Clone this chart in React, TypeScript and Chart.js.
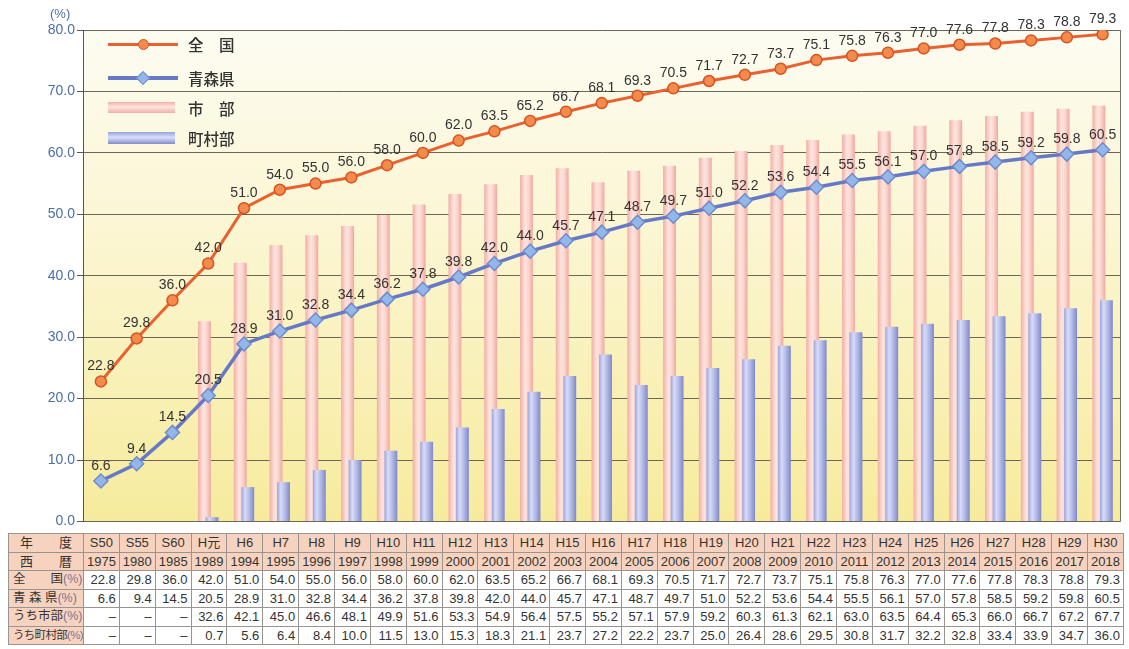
import React, { useEffect, useRef } from "react";
import { Chart, registerables } from "chart.js";

Chart.register(...registerables);

// ---- data ----
const eraLabels = ["S50","S55","S60","H元","H6","H7","H8","H9","H10","H11","H12","H13","H14","H15","H16","H17","H18","H19","H20","H21","H22","H23","H24","H25","H26","H27","H28","H29","H30"];
const westernYears = ["1975","1980","1985","1989","1994","1995","1996","1997","1998","1999","2000","2001","2002","2003","2004","2005","2006","2007","2008","2009","2010","2011","2012","2013","2014","2015","2016","2017","2018"];
const national = [22.8,29.8,36.0,42.0,51.0,54.0,55.0,56.0,58.0,60.0,62.0,63.5,65.2,66.7,68.1,69.3,70.5,71.7,72.7,73.7,75.1,75.8,76.3,77.0,77.6,77.8,78.3,78.8,79.3];
const aomori = [6.6,9.4,14.5,20.5,28.9,31.0,32.8,34.4,36.2,37.8,39.8,42.0,44.0,45.7,47.1,48.7,49.7,51.0,52.2,53.6,54.4,55.5,56.1,57.0,57.8,58.5,59.2,59.8,60.5];
const cityPart: (number | null)[] = [null,null,null,32.6,42.1,45.0,46.6,48.1,49.9,51.6,53.3,54.9,56.4,57.5,55.2,57.1,57.9,59.2,60.3,61.3,62.1,63.0,63.5,64.4,65.3,66.0,66.7,67.2,67.7];
const townPart: (number | null)[] = [null,null,null,0.7,5.6,6.4,8.4,10.0,11.5,13.0,15.3,18.3,21.1,23.7,27.2,22.2,23.7,25.0,26.4,28.6,29.5,30.8,31.7,32.2,32.8,33.4,33.9,34.7,36.0];
const yTicks = [0,10,20,30,40,50,60,70,80];

const seriesNames = ["全　国", "青森県", "市　部", "町村部"];
const tableHead = ["年　　度", "西　　暦"];
const tableRowNames = ["全　　国", "青 森 県", "うち市部", "うち町村部"];

const CAT_PCT = 0.42;
const BAR_PCT = 1.72;

function barFill(c: any, which: number) {
  const chart = c.chart;
  const xs = chart.scales && chart.scales.x;
  const solid = which === 0 ? "#f7c4bb" : "#b3b9e6";
  if (!xs || c.type !== "data" || !chart.chartArea) return solid;
  const center = xs.getPixelForValue(c.dataIndex);
  const cw = xs.width / eraLabels.length;
  const slot = (cw * CAT_PCT) / 2;
  const w = slot * BAR_PCT;
  const mid = which === 0 ? center - slot / 2 : center + slot / 2;
  const g = chart.ctx.createLinearGradient(mid - w / 2, 0, mid + w / 2, 0);
  if (which === 0) {
    g.addColorStop(0, "#f2aea4");
    g.addColorStop(0.4, "#fde4de");
    g.addColorStop(0.65, "#fbd8d1");
    g.addColorStop(1, "#f0a89f");
  } else {
    g.addColorStop(0, "#9ea6dc");
    g.addColorStop(0.3, "#d8dcf7");
    g.addColorStop(0.65, "#aeb5e4");
    g.addColorStop(1, "#7f89c8");
  }
  return g;
}

const bgPlugin = {
  id: "bgPlugin",
  beforeDraw(chart: any) {
    const { ctx, chartArea: a } = chart;
    if (!a) return;
    const g = ctx.createLinearGradient(0, a.top, 0, a.bottom);
    g.addColorStop(0, "#fdfcf2");
    g.addColorStop(0.45, "#fbf5cf");
    g.addColorStop(1, "#f6eb9c");
    ctx.save();
    ctx.fillStyle = g;
    ctx.fillRect(a.left, a.top, a.right - a.left, a.bottom - a.top);
    ctx.restore();
  },
  afterDraw(chart: any) {
    const { ctx, chartArea: a } = chart;
    ctx.save();
    ctx.strokeStyle = "#77736a";
    ctx.lineWidth = 1;
    ctx.beginPath();
    ctx.moveTo(Math.round(a.right) - 0.5, a.top);
    ctx.lineTo(Math.round(a.right) - 0.5, a.bottom);
    ctx.stroke();
    ctx.restore();
  },
};

// draw the town bars on top of the city bars (keeping library positions)
const barOrderPlugin = {
  id: "barOrder",
  beforeDatasetDraw(chart: any, args: any) {
    if (args.index === 3) return false;
  },
  afterDatasetDraw(chart: any, args: any) {
    if (args.index === 2) {
      const meta = chart.getDatasetMeta(3);
      if (meta && !meta.hidden) meta.controller.draw();
    }
  },
};

const labelPlugin = {
  id: "pointLabels",
  afterDatasetsDraw(chart: any) {
    const ctx = chart.ctx;
    ctx.save();
    ctx.font = '14px "Liberation Sans", Arial, sans-serif';
    ctx.fillStyle = "#333333";
    ctx.textAlign = "center";
    ctx.textBaseline = "middle";
    [0, 1].forEach((di) => {
      const meta = chart.getDatasetMeta(di);
      const data = chart.data.datasets[di].data as number[];
      meta.data.forEach((el: any, i: number) => {
        ctx.fillText(data[i].toFixed(1), el.x, el.y - 15);
      });
    });
    ctx.restore();
  },
};

const cellFont = '"Liberation Sans", "Noto Sans CJK JP", Arial, sans-serif';
const border = "1px solid #9a9490";
const peach = "#f7d3bf";

export default function App() {
  const ref = useRef<HTMLCanvasElement>(null);

  useEffect(() => {
    const canvas = ref.current;
    if (!canvas) return;
    const chart = new Chart(canvas, {
      type: "bar",
      data: {
        labels: eraLabels,
        datasets: [
          {
            type: "line",
            label: seriesNames[0],
            data: national,
            borderColor: "#e8612e",
            borderWidth: 3,
            pointStyle: "circle",
            pointRadius: 5.5,
            pointBackgroundColor: "#f38b4c",
            pointBorderColor: "#d95322",
            pointBorderWidth: 1.5,
            tension: 0,
          } as any,
          {
            type: "line",
            label: seriesNames[1],
            data: aomori,
            borderColor: "#6679c6",
            borderWidth: 3.5,
            pointStyle: "rectRot",
            pointRadius: 7,
            pointBackgroundColor: "#94b7ea",
            pointBorderColor: "#6f8bcc",
            pointBorderWidth: 1.5,
            tension: 0,
          } as any,
          {
            type: "bar",
            label: seriesNames[2],
            data: cityPart,
            backgroundColor: (c: any) => barFill(c, 0),
            borderWidth: 0,
            categoryPercentage: CAT_PCT,
            barPercentage: BAR_PCT,
          } as any,
          {
            type: "bar",
            label: seriesNames[3],
            data: townPart,
            backgroundColor: (c: any) => barFill(c, 1),
            borderWidth: 0,
            categoryPercentage: CAT_PCT,
            barPercentage: BAR_PCT,
          } as any,
        ],
      },
      options: {
        responsive: false,
        animation: false,
        layout: { padding: { top: 30, right: 6, bottom: 6, left: 0 } },
        plugins: { legend: { display: false }, tooltip: { enabled: false } },
        scales: {
          x: { display: false, offset: true, grid: { display: false } },
          y: {
            min: 0,
            max: 80,
            afterBuildTicks: (s: any) => {
              s.ticks = yTicks.map((v) => ({ value: v }));
            },
            ticks: {
              callback: (v: any) => Number(v).toFixed(1),
              color: "#4a6fa5",
              font: { family: '"Liberation Sans", Arial, sans-serif', size: 14 },
              padding: 2,
            },
            grid: { color: "#6d6856", lineWidth: 1, tickLength: 6, tickColor: "#555555" },
            border: { color: "#555555" },
            afterFit: (s: any) => {
              s.width = 83;
              s.paddingTop = 0;
              s.paddingBottom = 0;
            },
          } as any,
        },
      },
      plugins: [bgPlugin, barOrderPlugin, labelPlugin],
    });
    return () => chart.destroy();
  }, []);

  const colW = (1115 - 75) / eraLabels.length;
  const tdBase: React.CSSProperties = {
    border,
    height: 17.5,
    padding: "0 3px",
    fontSize: 13,
    lineHeight: "17px",
    color: "#333",
    whiteSpace: "nowrap",
    overflow: "hidden",
  };
  const labelCell: React.CSSProperties = { ...tdBase, background: peach, textAlign: "left", padding: "0 2px 0 4px" };
  const rows: (number | null)[][] = [national, aomori, cityPart, townPart];

  const legendText: React.CSSProperties = {
    position: "absolute",
    left: 188,
    fontFamily: '"Noto Sans CJK JP", sans-serif',
    fontSize: 15.5,
    fontWeight: 500,
    color: "#333",
    lineHeight: "20px",
    height: 20,
  };

  return (
    <div style={{ position: "absolute", left: 0, top: 0, width: 1129, height: 649, background: "#fff", overflow: "hidden" }}>
      <canvas ref={ref} width={1129} height={530} style={{ position: "absolute", left: 0, top: 0 }} />
      {/* axis unit */}
      <div style={{ position: "absolute", left: 50, top: 6, fontFamily: cellFont, fontSize: 13, color: "#4a6fa5" }}>(%)</div>
      {/* legend */}
      <div style={{ position: "absolute", left: 108, top: 42.5, width: 70, height: 3, background: "#e8612e" }} />
      <div style={{ position: "absolute", left: 137.5, top: 38.5, width: 9, height: 9, borderRadius: "50%", background: "#f38b4c", border: "1.5px solid #d95322" }} />
      <div style={{ ...legendText, top: 34 }}>{seriesNames[0]}</div>
      <div style={{ position: "absolute", left: 108, top: 76, width: 70, height: 3.5, background: "#6679c6" }} />
      <div style={{ position: "absolute", left: 138, top: 72.5, width: 8, height: 8, transform: "rotate(45deg)", background: "#94b7ea", border: "1.5px solid #6f8bcc" }} />
      <div style={{ ...legendText, top: 68 }}>{seriesNames[1]}</div>
      <div style={{ position: "absolute", left: 108, top: 102, width: 67, height: 11, background: "linear-gradient(to bottom, #f3b0a6, #fde6e0 45%, #f8cec6 70%, #f2aca3)" }} />
      <div style={{ ...legendText, top: 98 }}>{seriesNames[2]}</div>
      <div style={{ position: "absolute", left: 108, top: 132, width: 67, height: 12, background: "linear-gradient(to bottom, #9aa3dc, #dadef8 45%, #b3b9e6 70%, #818ac9)" }} />
      <div style={{ ...legendText, top: 128 }}>{seriesNames[3]}</div>
      {/* data table */}
      <table
        style={{
          position: "absolute",
          left: 8,
          top: 533,
          width: 1115,
          borderCollapse: "collapse",
          tableLayout: "fixed",
          fontFamily: cellFont,
        }}
      >
        <colgroup>
          <col style={{ width: 75 }} />
          {eraLabels.map((l) => (
            <col key={l} style={{ width: colW }} />
          ))}
        </colgroup>
        <tbody>
          <tr>
            <td style={{ ...tdBase, background: peach, textAlign: "center" }}>{tableHead[0]}</td>
            {eraLabels.map((l) => (
              <td key={l} style={{ ...tdBase, background: peach, textAlign: "center", padding: 0 }}>{l}</td>
            ))}
          </tr>
          <tr>
            <td style={{ ...tdBase, background: peach, textAlign: "center" }}>{tableHead[1]}</td>
            {westernYears.map((y) => (
              <td key={y} style={{ ...tdBase, background: peach, textAlign: "center", padding: 0 }}>{y}</td>
            ))}
          </tr>
          {rows.map((r, ri) => (
            <tr key={ri}>
              <td style={{ ...labelCell, fontSize: ri === 3 ? 11.5 : 12.5, letterSpacing: ri === 3 ? -0.7 : 0 }}>
                {tableRowNames[ri]}
                <span style={{ color: "#7c7490" }}>(%)</span>
              </td>
              {r.map((v, i) => (
                <td key={i} style={{ ...tdBase, background: "#fff", textAlign: "right" }}>
                  {v === null ? "–" : v.toFixed(1)}
                </td>
              ))}
            </tr>
          ))}
        </tbody>
      </table>
    </div>
  );
}
